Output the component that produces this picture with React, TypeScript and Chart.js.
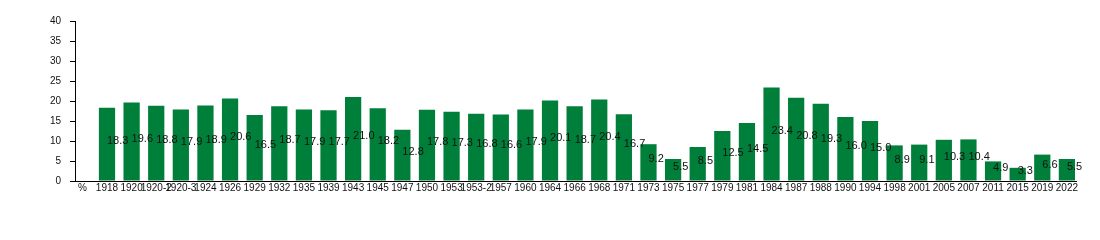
import React, { useEffect, useRef } from "react";
import { Chart, registerables } from "chart.js";

Chart.register(...registerables);

const categories: string[] = [
  "%", "1918", "1920", "1920-2", "1920-3", "1924", "1926", "1929", "1932", "1935", "1939", "1943",
  "1945", "1947", "1950", "1953", "1953-2", "1957", "1960", "1964", "1966", "1968", "1971", "1973",
  "1975", "1977", "1979", "1981", "1984", "1987", "1988", "1990", "1994", "1998", "2001", "2005",
  "2007", "2011", "2015", "2019", "2022",
];

// values for categories[1..] ("%" has no bar)
const values: number[] = [
  18.3, 19.6, 18.8, 17.9, 18.9, 20.6, 16.5, 18.7, 17.9, 17.7, 21.0,
  18.2, 12.8, 17.8, 17.3, 16.8, 16.6, 17.9, 20.1, 18.7, 20.4, 16.7, 9.2,
  5.5, 8.5, 12.5, 14.5, 23.4, 20.8, 19.3, 16.0, 15.0, 8.9, 9.1, 10.3,
  10.4, 4.9, 3.3, 6.6, 5.5,
];

const yTicks: number[] = [0, 5, 10, 15, 20, 25, 30, 35, 40];

const FONT = "'Liberation Sans', Arial, sans-serif";

const barLabels = {
  id: "barLabels",
  afterDatasetsDraw(chart: any) {
    const ctx = chart.ctx;
    const meta = chart.getDatasetMeta(0);
    ctx.save();
    ctx.font = `11px ${FONT}`;
    ctx.fillStyle = "#111";
    ctx.textAlign = "left";
    ctx.textBaseline = "alphabetic";
    meta.data.forEach((el: any, i: number) => {
      const v = values[i];
      ctx.fillText(v.toFixed(1), el.x, (el.y + el.base) / 2);
    });
    ctx.restore();
  },
};

export default function App() {
  const ref = useRef<HTMLCanvasElement | null>(null);
  useEffect(() => {
    if (!ref.current) return;
    const chart = new Chart(ref.current, {
      type: "bar",
      data: {
        datasets: [
          {
            data: values.map((v, i) => ({ x: i + 1, y: v })),
            backgroundColor: "#007f3a",
            borderWidth: 0,
            barPercentage: 0.66,
            categoryPercentage: 1,
          },
        ],
      },
      options: {
        animation: false,
        responsive: false,
        maintainAspectRatio: false,
        layout: { padding: { left: 0, right: 24, top: 21, bottom: 0 } },
        plugins: { legend: { display: false }, tooltip: { enabled: false } },
        scales: {
          x: {
            type: "linear",
            offset: false,
            min: -0.3,
            max: 40.37,
            afterBuildTicks: (scale: any) => {
              scale.ticks = categories.map((_, i) => ({ value: i }));
            },
            afterFit: (scale: any) => {
              scale.height = 59;
            },
            grid: { display: false, drawTicks: false, offset: false },
            border: { display: true, color: "#000", width: 1 },
            ticks: {
              autoSkip: false,
              maxRotation: 0,
              minRotation: 0,
              padding: 1,
              color: "#111",
              font: { family: FONT, size: 10 },
              callback: (v: any) => categories[Math.round(Number(v))] ?? "",
            },
          },
          y: {
            min: 0,
            max: 40,
            afterBuildTicks: (scale: any) => {
              scale.ticks = yTicks.map((v) => ({ value: v }));
            },
            afterFit: (scale: any) => {
              scale.width = 75;
            },
            grid: { display: true, drawOnChartArea: false, drawTicks: true, tickLength: 5, color: "#000" },
            border: { display: true, color: "#000", width: 1 },
            ticks: {
              padding: 9,
              color: "#111",
              font: { family: FONT, size: 10 },
            },
          },
        },
      },
      plugins: [barLabels],
    });
    return () => chart.destroy();
  }, []);
  return (
    <div style={{ position: "fixed", left: 0, top: 0, width: 1100, height: 240, background: "#fff" }}>
      <canvas ref={ref} width={1100} height={240} style={{ width: 1100, height: 240, display: "block" }} />
    </div>
  );
}
